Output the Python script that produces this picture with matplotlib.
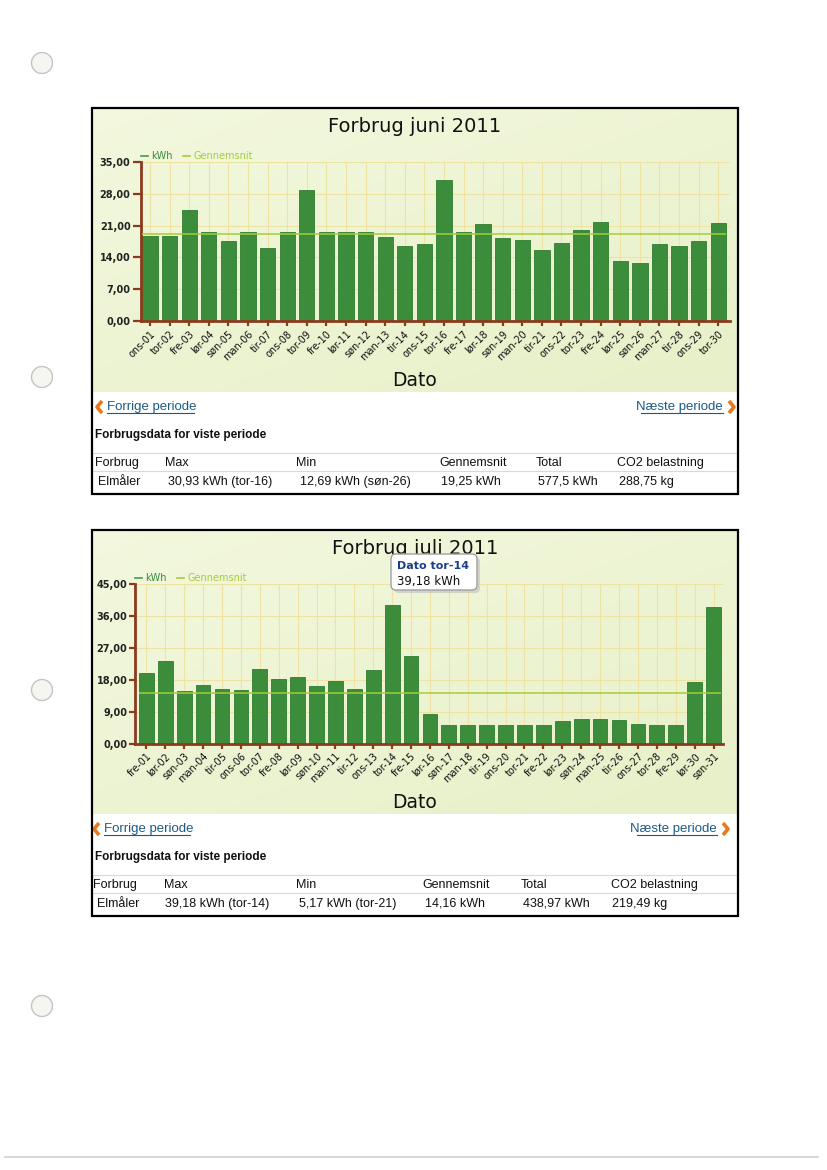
import numpy as np
import matplotlib
matplotlib.use('Agg')
import matplotlib.pyplot as plt
from matplotlib.patches import Rectangle, FancyBboxPatch, Circle

# ---- data ----
jun_labels = ['ons-01', 'tor-02', 'fre-03', 'lør-04', 'søn-05', 'man-06', 'tir-07', 'ons-08',
              'tor-09', 'fre-10', 'lør-11', 'søn-12', 'man-13', 'tir-14', 'ons-15', 'tor-16',
              'fre-17', 'lør-18', 'søn-19', 'man-20', 'tir-21', 'ons-22', 'tor-23', 'fre-24',
              'lør-25', 'søn-26', 'man-27', 'tir-28', 'ons-29', 'tor-30']
jun_kwh = [18.75, 18.75, 24.5, 19.6, 17.6, 19.55, 16.0, 19.55, 28.75, 19.6, 19.6, 19.7, 18.6,
           16.5, 17.0, 30.93, 19.55, 21.3, 18.2, 17.8, 15.7, 17.2, 20.1, 21.8, 13.2, 12.69,
           17.0, 16.5, 17.6, 21.5]
jun_avg = 19.25
jun_yticks = [0, 7, 14, 21, 28, 35]
jun_table = ['30,93 kWh (tor-16)', '12,69 kWh (søn-26)', '19,25 kWh', '577,5 kWh', '288,75 kg']

jul_labels = ['fre-01', 'lør-02', 'søn-03', 'man-04', 'tir-05', 'ons-06', 'tor-07', 'fre-08',
              'lør-09', 'søn-10', 'man-11', 'tir-12', 'ons-13', 'tor-14', 'fre-15', 'lør-16',
              'søn-17', 'man-18', 'tir-19', 'ons-20', 'tor-21', 'fre-22', 'lør-23', 'søn-24',
              'man-25', 'tir-26', 'ons-27', 'tor-28', 'fre-29', 'lør-30', 'søn-31']
jul_kwh = [19.85, 23.4, 14.7, 16.4, 15.3, 15.0, 21.0, 18.1, 18.9, 16.3, 17.6, 15.3, 20.7,
           39.18, 24.6, 8.45, 5.3, 5.3, 5.3, 5.2, 5.17, 5.3, 6.4, 6.9, 6.9, 6.55, 5.5, 5.3,
           5.25, 17.3, 38.4]
jul_avg = 14.16
jul_yticks = [0, 9, 18, 27, 36, 45]
jul_table = ['39,18 kWh (tor-14)', '5,17 kWh (tor-21)', '14,16 kWh', '438,97 kWh', '219,49 kg']

table_head = ['Forbrug', 'Max', 'Min', 'Gennemsnit', 'Total', 'CO2 belastning']

W, H = 827, 1170
BAR = '#3b8c3b'
BROWN = '#8b3a1c'
AVG = '#a5cc3a'
LINK = '#1d5b86'
ORANGE = '#e8781e'
SANS = 'Liberation Sans'

fig = plt.figure(figsize=(W / 100, H / 100), dpi=100)
fig.patch.set_facecolor('white')
page = fig.add_axes([0, 0, 1, 1])
page.axis('off')


def px_axes(x0, y0, x1, y1):
    return fig.add_axes([x0 / W, 1 - y1 / H, (x1 - x0) / W, (y1 - y0) / H])


def panel_gradient(x0, y0, x1, y1):
    h, w = 60, 120
    yy, xx = np.mgrid[0:h, 0:w]
    t = 0.55 * yy / h + 0.45 * xx / w
    c0 = np.array([243, 248, 222]) / 255
    c1 = np.array([231, 240, 200]) / 255
    img = c0[None, None, :] * (1 - t[..., None]) + c1[None, None, :] * t[..., None]
    page.imshow(img, extent=(x0, x1, y1, y0), aspect='auto', zorder=0, interpolation='bilinear')


def link(x_text, x_end, y, text, side):
    if side == 'left':
        page.text(x_text, y, text, fontsize=9.5, family=SANS, color=LINK, va='center', ha='left')
        page.plot([x_text, x_end], [y + 6, y + 6], color=LINK, lw=0.8)
        cx = x_text - 5
        page.plot([cx, cx - 5, cx], [y - 6, y, y + 6], color=ORANGE, lw=2.6, solid_capstyle='butt')
    else:
        page.text(x_end, y, text, fontsize=9.5, family=SANS, color=LINK, va='center', ha='right')
        page.plot([x_text, x_end], [y + 6, y + 6], color=LINK, lw=0.8)
        cx = x_end + 6
        page.plot([cx, cx + 5, cx], [y - 6, y, y + 6], color=ORANGE, lw=2.6, solid_capstyle='butt')


def draw_chart(dy, title, labels, values, avg, yticks, ax_box, tick_len, table_vals, head_x,
               row_x, left_link, right_link):
    # outer frame and green panel
    page.add_patch(Rectangle((92, 108 + dy), 646, 386, fill=False, ec='black', lw=1.6, zorder=5))
    panel_gradient(93, 109 + dy, 737, 392 + dy)

    page.text(415, 127 + dy, title, fontsize=14, ha='center', va='center', color='#111111')

    # legend
    lx = ax_box[0]
    page.plot([lx, lx + 7], [156 + dy, 156 + dy], color='#4a9a4a', lw=1.2)
    page.text(lx + 10, 156 + dy, 'kWh', fontsize=7, color='#3a8a3a', va='center')
    page.plot([lx + 42, lx + 49], [156 + dy, 156 + dy], color=AVG, lw=1.2)
    page.text(lx + 52, 156 + dy, 'Gennemsnit', fontsize=7, color=AVG, va='center')

    page.text(415, 380 + dy, 'Dato', fontsize=13.5, ha='center', va='center', color='#111111')

    # bars
    x0, y0, x1, y1, xl, xr = ax_box
    ax = px_axes(x0, y0 + dy, x1, y1 + dy)
    ax.patch.set_alpha(0)
    pos = np.arange(len(values))
    ax.bar(pos, values, width=0.78, color=BAR, edgecolor='#2f7d2f', lw=0.6, zorder=2)
    ax.hlines(avg, -0.4, len(values) - 0.6, color=AVG, lw=1.1, zorder=3)
    ax.set_xlim(xl, xr)
    ax.set_ylim(0, yticks[-1])
    ax.set_yticks(yticks)
    ax.set_yticklabels([f'{v:.2f}'.replace('.', ',') for v in yticks],
                       fontsize=7, fontweight='bold', color='#222222')
    ax.set_xticks(pos)
    ax.set_xticklabels(labels, rotation=45, ha='right', va='top', rotation_mode='anchor',
                       fontsize=7, color='#111111')
    ax.grid(True, color='#eee3a2', lw=0.8, zorder=0)
    ax.set_axisbelow(True)
    for s in ['top', 'right']:
        ax.spines[s].set_visible(False)
    for s in ['left', 'bottom']:
        ax.spines[s].set_color(BROWN)
        ax.spines[s].set_linewidth(2)
    ax.tick_params(axis='y', length=tick_len, width=1.6, color=BROWN, pad=1.5)
    ax.tick_params(axis='x', length=3.5, width=1.6, color=BROWN, pad=2)

    # links under the chart
    link(left_link[0], left_link[1], 407 + dy, 'Forrige periode', 'left')
    link(right_link[0], right_link[1], 407 + dy, 'Næste periode', 'right')

    page.text(95, 435 + dy, 'Forbrugsdata for viste periode', fontsize=8.5, fontweight='bold',
              family=SANS, va='center', color='#111111')

    # summary table
    for yl in (453 + dy, 471 + dy):
        page.plot([93, 737], [yl, yl], color='#d9d9d9', lw=0.8)
    for x, t in zip(head_x, table_head):
        page.text(x, 463 + dy, t, fontsize=9, family=SANS, va='center', color='#111111')
    row = ['Elmåler'] + table_vals
    for x, t in zip(row_x, row):
        page.text(x, 482 + dy, t, fontsize=9, family=SANS, va='center', color='#111111')
    return ax


draw_chart(0, 'Forbrug juni 2011', jun_labels, jun_kwh, jun_avg, jun_yticks,
           (141, 162, 730, 321, -0.46, 29.6), 6, jun_table,
           [95, 165, 296, 439, 536, 617], [98, 168, 300, 441, 538, 619],
           (107, 194), (641, 723))

draw_chart(422, 'Forbrug juli 2011', jul_labels, jul_kwh, jul_avg, jul_yticks,
           (135, 162, 723, 321.5, -0.6, 30.5), 4, jul_table,
           [93, 164, 296, 422, 521, 611], [97, 165, 299, 425, 523, 612],
           (104, 190), (637, 717))

# hole punches and page edge line
for yc in (63, 377, 690, 1006):
    page.add_patch(Circle((42, yc), 10.5, fc='#f6f6f1', ec='#c4c4c4', lw=1.0, zorder=5))
page.plot([5, 818], [1157, 1157], color='#cfcfcf', lw=1.2)
page.set_xlim(0, W)
page.set_ylim(H, 0)

# tooltip over the July chart
over = fig.add_axes([0, 0, 1, 1])
over.axis('off')
over.add_patch(FancyBboxPatch((394, 557), 86, 36, boxstyle='round,pad=0,rounding_size=5',
                              fc='#bdbdbd', ec='none', alpha=0.6))
over.add_patch(FancyBboxPatch((391, 554), 86, 36, boxstyle='round,pad=0,rounding_size=5',
                              fc='white', ec='#a0a0a0', lw=1.0))
over.text(397, 566, 'Dato tor-14', fontsize=8, fontweight='bold', color='#1b3d8f', va='center')
over.text(397, 581, '39,18 kWh', fontsize=8.5, color='#111111', va='center')
over.set_xlim(0, W)
over.set_ylim(H, 0)

fig.savefig('out.png', dpi=100)
